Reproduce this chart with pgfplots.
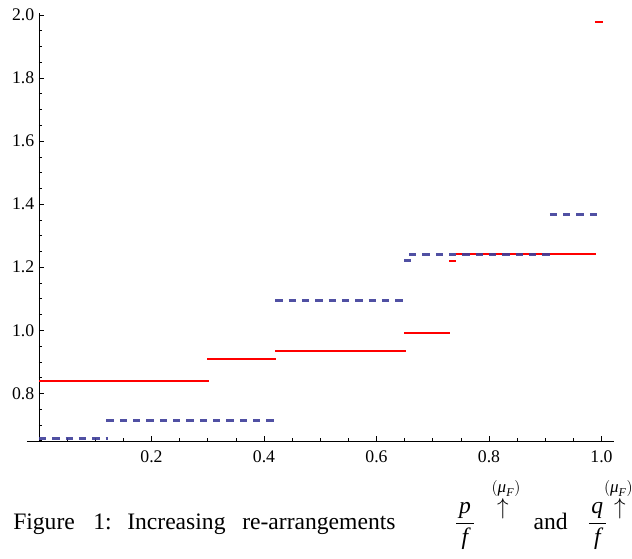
\documentclass[border=0pt]{standalone}
\usepackage{amsmath}
\usepackage{pgfplots}
\pgfplotsset{compat=1.18}
\usepackage{fontspec}
\setmainfont{Liberation Serif}
\definecolor{mred}{rgb}{1,0,0}
\definecolor{mblue}{rgb}{0.24,0.24,0.6}
\newcommand{\capfont}{\fontsize{17.7}{20}\selectfont}
\newcommand{\supfont}{\fontsize{12.8}{14}\selectfont}
\begin{document}
\begin{tikzpicture}
\path[use as bounding box] (0,0) rectangle (474pt,418.5pt);
\begin{axis}[
  at={(20.25pt,87.75pt)}, anchor=south west,
  scale only axis, width=440.25pt, height=320.7pt,
  xmin=-0.0213, xmax=1.0222, ymin=0.649, ymax=2.005,
  axis x line=bottom, axis y line=middle,
  axis line style={-, line width=0.6pt, black},
  xtick={0.2,0.4,0.6,0.8,1.0},
  ytick={0.8,1.0,1.2,1.4,1.6,1.8,2.0},
  minor xtick={0.05,0.1,0.15,0.25,0.3,0.35,0.45,0.5,0.55,0.65,0.7,0.75,0.85,0.9,0.95},
  minor ytick={0.65,0.7,0.75,0.85,0.9,0.95,1.05,1.1,1.15,1.25,1.3,1.35,1.45,1.5,1.55,1.65,1.7,1.75,1.85,1.9,1.95},
  tick align=inside, major tick length=3.4pt, minor tick length=1.9pt,
  tick style={black, line width=0.5pt},
  /pgf/number format/assume math mode=true,
  xticklabel style={yshift=-3.5pt, /pgf/number format/.cd, fixed, fixed zerofill, precision=1},
  yticklabel style={/pgf/number format/.cd, fixed, fixed zerofill, precision=1},
  tick label style={font=\fontsize{13.3}{15}\selectfont},
  clip=false,
]
% red solid steps
\addplot[mred, line width=1.5pt, no marks] coordinates {(0,0.839) (0.302,0.839)};
\addplot[mred, line width=1.5pt, no marks] coordinates {(0.299,0.909) (0.422,0.909)};
\addplot[mred, line width=1.5pt, no marks] coordinates {(0.420,0.933) (0.652,0.933)};
\addplot[mred, line width=1.5pt, no marks] coordinates {(0.649,0.992) (0.731,0.992)};
\addplot[mred, line width=1.5pt, no marks] coordinates {(0.729,1.221) (0.741,1.221)};
\addplot[mred, line width=1.5pt, no marks] coordinates {(0.741,1.242) (0.991,1.242)};
\addplot[mred, line width=1.5pt, no marks] coordinates {(0.988,1.977) (1.003,1.977)};
% blue dashed steps
\addplot[mblue, opacity=0.9, line width=2.25pt, dash pattern=on 5.5pt off 4.5pt, no marks] coordinates {(0,0.658) (0.122,0.658)};
\addplot[mblue, opacity=0.9, line width=2.25pt, dash pattern=on 5.5pt off 4.5pt, no marks] coordinates {(0.120,0.714) (0.420,0.714)};
\addplot[mblue, opacity=0.9, line width=2.25pt, dash pattern=on 5.5pt off 4.5pt, no marks] coordinates {(0.420,1.096) (0.648,1.096)};
\addplot[mblue, opacity=0.9, line width=2.25pt, dash pattern=on 5.5pt off 4.5pt, no marks] coordinates {(0.649,1.221) (0.663,1.221)};
\addplot[mblue, opacity=0.9, line width=2.25pt, dash pattern=on 5.5pt off 4.5pt, no marks] coordinates {(0.658,1.242) (0.912,1.242)};
\addplot[mblue, opacity=0.9, line width=2.25pt, dash pattern=on 5.5pt off 4.5pt, no marks] coordinates {(0.908,1.367) (0.993,1.367)};
\end{axis}
% caption
\begin{scope}[every node/.style={inner sep=0pt}]
\node[anchor=base west] at (9.75pt,21.75pt) {\capfont Figure};
\node[anchor=base west] at (69.75pt,21.75pt) {\capfont 1:};
\node[anchor=base west] at (95.25pt,21.75pt) {\capfont Increasing};
\node[anchor=base west] at (181.5pt,21.75pt) {\capfont re-arrangements};
\node[anchor=base] at (348.75pt,21.75pt) {\capfont $\displaystyle\frac{\hspace{2pt}\textit{p}\hspace{2pt}}{\hspace{2pt}\textit{f}\hspace{2pt}}$};
\node[anchor=base] at (377.25pt,32.5pt) {\capfont $\uparrow$};
\node[anchor=base] at (379.5pt,49pt) {\supfont $(\textit{μ}_{\textit{F}})$};
\node[anchor=base west] at (400pt,21.75pt) {\capfont and};
\node[anchor=base] at (448pt,21.75pt) {\capfont $\displaystyle\frac{\hspace{2pt}\textit{q}\hspace{2pt}}{\hspace{2pt}\textit{f}\hspace{2pt}}$};
\node[anchor=base] at (465pt,32.5pt) {\capfont $\uparrow$};
\node[anchor=base] at (463.8pt,49pt) {\supfont $(\textit{μ}_{\textit{F}})$};
\end{scope}
\end{tikzpicture}
\end{document}
